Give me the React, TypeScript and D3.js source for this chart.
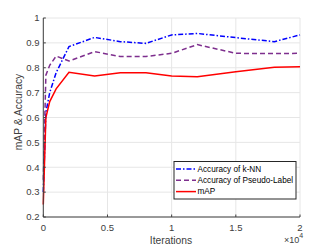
import React from "react";
import * as d3 from "d3";

const iterations = [0, 200, 500, 1000, 2000, 4000, 6000, 8000, 10000, 12000, 15000, 18000, 20000];
const knnAcc = [0.3, 0.62, 0.7, 0.78, 0.885, 0.922, 0.905, 0.898, 0.932, 0.938, 0.921, 0.905, 0.932];
const pseudoAcc = [0.35, 0.77, 0.81, 0.847, 0.827, 0.865, 0.845, 0.845, 0.858, 0.893, 0.858, 0.857, 0.858];
const mapVals = [0.25, 0.6, 0.664, 0.715, 0.782, 0.767, 0.78, 0.78, 0.767, 0.764, 0.784, 0.802, 0.804];
const xTicks = [0, 0.5, 1, 1.5, 2];
const yTicks = [0.2, 0.3, 0.4, 0.5, 0.6, 0.7, 0.8, 0.9, 1];
const seriesNames = ["Accuracy of k-NN", "Accuracy of Pseudo-Label", "mAP"];

export default function App() {
  const W = 332, H = 249;
  const x = d3.scaleLinear().domain([0, 20000]).range([43.3, 300]);
  const y = d3.scaleLinear().domain([0.2, 1]).range([217, 18]);
  const line = d3.line<number>().x((_, i) => x(iterations[i])).y((d) => y(d));
  const series = [
    { name: seriesNames[0], vals: knnAcc, color: "#0000ff", dash: "5,2,1.5,2" },
    { name: seriesNames[1], vals: pseudoAcc, color: "#7e2f8e", dash: "5,3" },
    { name: seriesNames[2], vals: mapVals, color: "#ff0000", dash: "" },
  ];
  const font = "'Liberation Sans', Arial, sans-serif";
  const lx = 174, ly = 161.5;
  return (
    <svg width={W} height={H} style={{ position: "absolute", left: 0, top: 0 }} fontFamily={font}>
      <rect x={0} y={0} width={W} height={H} fill="#fff" />
      {xTicks.map((t) => (
        <line key={"gx" + t} x1={x(t * 1e4)} x2={x(t * 1e4)} y1={y(0.2)} y2={y(1)} stroke="#e6e6e6" strokeWidth={1} />
      ))}
      {yTicks.map((t) => (
        <line key={"gy" + t} x1={x(0)} x2={x(20000)} y1={y(t)} y2={y(t)} stroke="#e6e6e6" strokeWidth={1} />
      ))}
      {series.map((s) => (
        <path key={s.name} d={line(s.vals) || ""} fill="none" stroke={s.color} strokeWidth={1.5} strokeDasharray={s.dash} />
      ))}
      <line x1={x(0)} x2={x(0)} y1={y(0.2)} y2={y(1)} stroke="#404040" strokeWidth={1} />
      <line x1={x(0)} x2={x(20000)} y1={y(0.2)} y2={y(0.2)} stroke="#404040" strokeWidth={1} />
      {yTicks.map((t) => (
        <g key={"ty" + t}>
          <line x1={x(0)} x2={x(0) + 2.5} y1={y(t)} y2={y(t)} stroke="#404040" />
          <text x={39.5} y={y(t)} dy="0.35em" textAnchor="end" fontSize={9.5} fill="#404040">{String(t)}</text>
        </g>
      ))}
      {xTicks.map((t) => (
        <g key={"tx" + t}>
          <line x1={x(t * 1e4)} x2={x(t * 1e4)} y1={y(0.2)} y2={y(0.2) - 2.5} stroke="#404040" />
          <text x={x(t * 1e4)} y={230.5} textAnchor="middle" fontSize={9.5} fill="#404040">{String(t)}</text>
        </g>
      ))}
      <text x={171} y={244} textAnchor="middle" fontSize={10.3} fill="#404040">Iterations</text>
      <text x={284} y={242.5} fontSize={9} fill="#404040">×10<tspan dy={-4.5} fontSize={7}>4</tspan></text>
      <text transform={`translate(22,112) rotate(-90)`} textAnchor="middle" fontSize={10.3} fill="#404040">mAP &amp; Accuracy</text>
      <rect x={lx} y={ly} width={122} height={37.5} fill="#fff" stroke="#262626" strokeWidth={1} />
      {series.map((s, i) => (
        <g key={"lg" + s.name}>
          <line x1={lx + 2} x2={lx + 22} y1={ly + 7.5 + i * 11.3} y2={ly + 7.5 + i * 11.3} stroke={s.color} strokeWidth={1.5} strokeDasharray={s.dash} />
          <text x={lx + 23.5} y={ly + 7.5 + i * 11.3} dy="0.35em" fontSize={8.2} fill="#000">{s.name}</text>
        </g>
      ))}
    </svg>
  );
}
